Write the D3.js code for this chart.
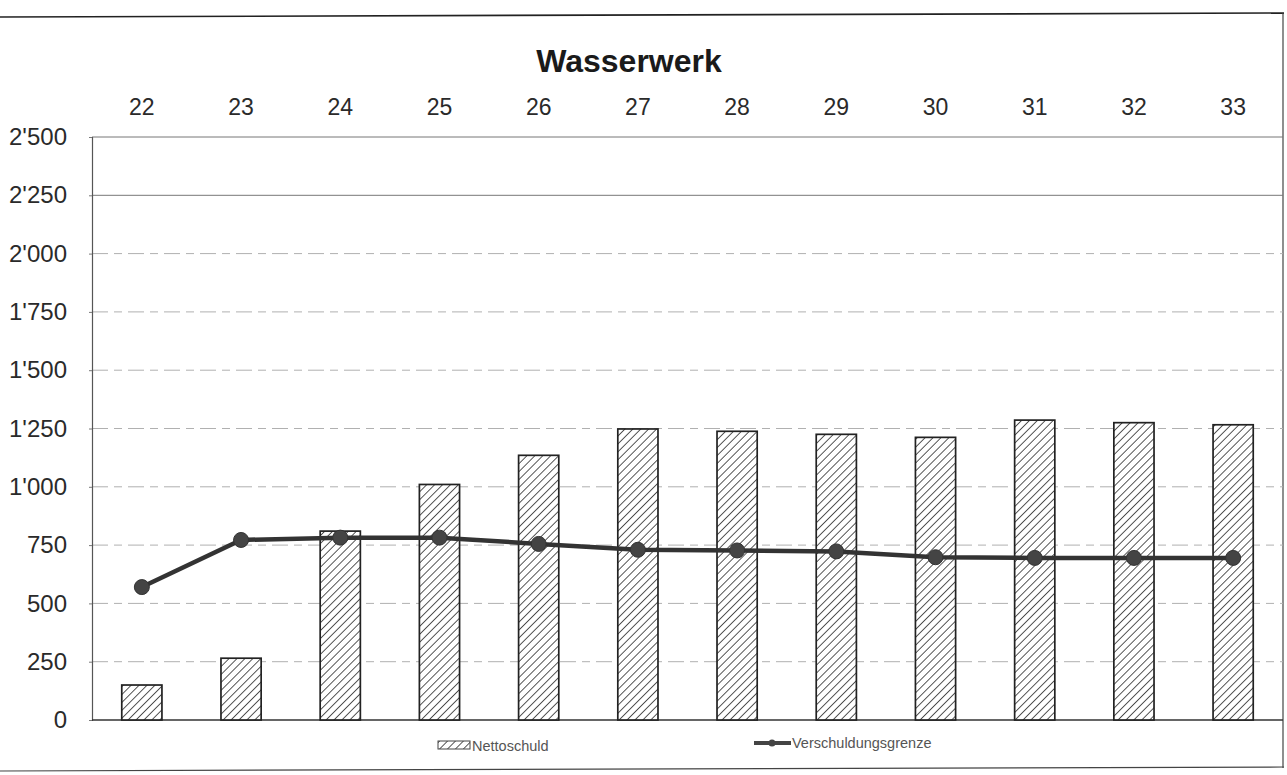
<!DOCTYPE html>
<html>
<head>
<meta charset="utf-8">
<script src="https://cdn.jsdelivr.net/npm/d3@7/dist/d3.min.js"></script>
<style>
  html, body { margin: 0; padding: 0; background: #fff; }
  svg { display: block; font-family: "Liberation Sans", Arial, sans-serif; }
</style>
</head>
<body>
<svg id="chart" width="1287" height="775"></svg>
<script>
const categories = ["22","23","24","25","26","27","28","29","30","31","32","33"];
const nettoschuld = [150, 265, 810, 1010, 1135, 1248, 1238, 1225, 1212, 1286, 1275, 1266];
const verschuldungsgrenze = [570, 772, 782, 782, 755, 730, 727, 723, 698, 695, 695, 695];
const yTicks = [0, 250, 500, 750, 1000, 1250, 1500, 1750, 2000, 2250, 2500];
const title = "Wasserwerk";
const seriesNames = ["Nettoschuld", "Verschuldungsgrenze"];

const svg = d3.select("#chart");
const pLeft = 92, pRight = 1283, pTop = 137, pBottom = 720;

const x = d3.scaleBand().domain(categories).range([pLeft, pRight]).paddingInner(0.595).paddingOuter(0.3);
const y = d3.scaleLinear().domain([0, 2500]).range([pBottom, pTop]);

const fmt = d3.formatLocale({decimal: ".", thousands: "'", grouping: [3], currency: ["", ""]}).format(",");

// hatch pattern
const defs = svg.append("defs");
const pat = defs.append("pattern")
  .attr("id", "hatch").attr("patternUnits", "userSpaceOnUse")
  .attr("width", 5.6).attr("height", 5.6)
  .attr("patternTransform", "rotate(45)");
pat.append("rect").attr("width", 5.6).attr("height", 5.6).attr("fill", "#fff");
pat.append("line").attr("x1", 0).attr("y1", 0).attr("x2", 0).attr("y2", 5.6)
  .attr("stroke", "#3a3a3a").attr("stroke-width", 1.7);

// frame
svg.append("line").attr("x1", 0).attr("x2", 1284).attr("y1", 17).attr("y2", 13)
  .attr("stroke", "#222").attr("stroke-width", 1.6);
svg.append("line").attr("x1", 1283).attr("x2", 1283).attr("y1", 13).attr("y2", 768)
  .attr("stroke", "#444").attr("stroke-width", 1.2);
svg.append("line").attr("x1", 0).attr("x2", 1284).attr("y1", 771).attr("y2", 767)
  .attr("stroke", "#444").attr("stroke-width", 1.2);

// gridlines
svg.append("g").selectAll("line").data(yTicks.filter(d => d > 0)).join("line")
  .attr("x1", pLeft).attr("x2", pRight)
  .attr("y1", d => y(d)).attr("y2", d => y(d))
  .attr("stroke", d => d >= 2250 ? "#777" : "#b0b0b0").attr("stroke-width", 1)
  .attr("stroke-dasharray", d => d >= 2250 ? null : "16,6,8,6");

// y axis
const yAxis = svg.append("g").attr("transform", `translate(${pLeft},0)`)
  .call(d3.axisLeft(y).tickValues(yTicks).tickFormat(fmt).tickSize(3).tickPadding(22));
yAxis.select(".domain").attr("stroke", "#555").attr("stroke-width", 1.2);
yAxis.selectAll(".tick line").attr("stroke", "#777");
yAxis.selectAll(".tick text").attr("font-size", 24).attr("fill", "#2a2a2a")
  .attr("font-family", "Liberation Sans, Arial, sans-serif");

// x axis labels on top
const xAxis = svg.append("g").attr("transform", `translate(0,${pTop - 22})`)
  .call(d3.axisTop(x).tickSize(0).tickPadding(0));
xAxis.select(".domain").remove();
xAxis.selectAll(".tick text").attr("font-size", 23).attr("fill", "#2a2a2a")
  .attr("font-family", "Liberation Sans, Arial, sans-serif");

// baseline
svg.append("line").attr("x1", pLeft).attr("x2", pRight).attr("y1", y(0)).attr("y2", y(0))
  .attr("stroke", "#333").attr("stroke-width", 1.6);

// bars
svg.append("g").selectAll("rect").data(categories).join("rect")
  .attr("x", d => x(d)).attr("width", x.bandwidth())
  .attr("y", (d, i) => y(nettoschuld[i]))
  .attr("height", (d, i) => y(0) - y(nettoschuld[i]))
  .attr("fill", "url(#hatch)").attr("stroke", "#222").attr("stroke-width", 1.7);

// line
const cx = d => x(d) + x.bandwidth() / 2;
const line = d3.line().x((d, i) => cx(categories[i])).y(d => y(d));
svg.append("path").datum(verschuldungsgrenze)
  .attr("d", line).attr("fill", "none").attr("stroke", "#333").attr("stroke-width", 4.5);
svg.append("g").selectAll("circle").data(verschuldungsgrenze).join("circle")
  .attr("cx", (d, i) => cx(categories[i])).attr("cy", d => y(d)).attr("r", 7.5)
  .attr("fill", "#444").attr("stroke", "#333").attr("stroke-width", 1);

// title
svg.append("text").attr("x", 629).attr("y", 72).attr("text-anchor", "middle")
  .attr("font-size", 32).attr("font-weight", "bold").attr("fill", "#1a1a1a").text(title);

// legend
const lg = svg.append("g").attr("font-size", 14.5).attr("fill", "#555");
lg.append("rect").attr("x", 438).attr("y", 741).attr("width", 32).attr("height", 8)
  .attr("fill", "url(#hatch)").attr("stroke", "#444").attr("stroke-width", 1);
lg.append("text").attr("x", 472).attr("y", 751).text(seriesNames[0]);
lg.append("line").attr("x1", 754).attr("x2", 791).attr("y1", 743).attr("y2", 743)
  .attr("stroke", "#444").attr("stroke-width", 4);
lg.append("circle").attr("cx", 772).attr("cy", 743).attr("r", 3.5).attr("fill", "#444");
lg.append("text").attr("x", 792).attr("y", 748).text(seriesNames[1]);
</script>
</body>
</html>
